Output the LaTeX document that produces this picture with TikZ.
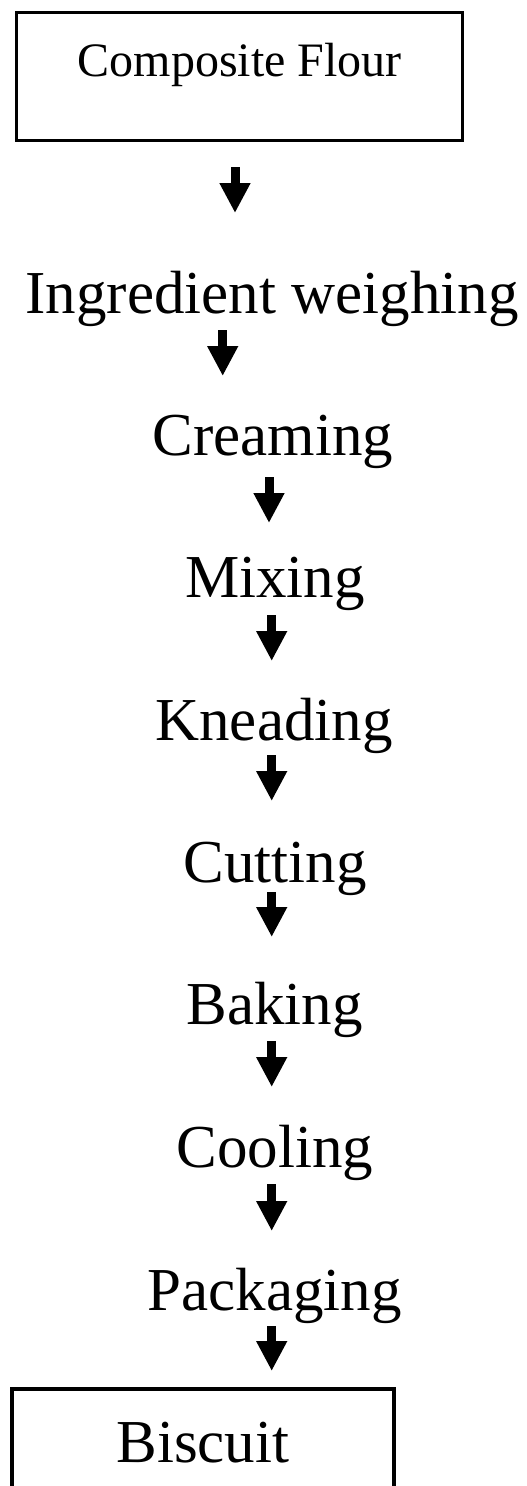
\documentclass[tikz,border=0pt]{standalone}
\usepackage{fontspec}
\setmainfont{Liberation Serif}
\usetikzlibrary{arrows.meta}
\tikzset{
  stage/.style={inner sep=0pt, anchor=base, font=\fontsize{61}{70}\selectfont},
  framed/.style={draw, line width=3.2pt, inner sep=0pt, anchor=base},
  flowarrow/.style={line width=9pt, -{Triangle[width=29pt,length=30pt]}}
}
\begin{document}
\begin{tikzpicture}[x=1pt,y=-1pt]
\useasboundingbox (0,0) rectangle (527,1486);
\clip (0,0) rectangle (527,1486);
\node[framed, font=\fontsize{48}{56}\selectfont, minimum width=446pt, text height=63.3pt, text depth=64.7pt] (flour) at (239.7,76) {Composite Flour};
\node[stage] (weigh) at (272,313) {Ingredient weighing};
\node[stage] (cream) at (273,455) {Creaming};
\node[stage] (mix) at (275,597) {Mixing};
\node[stage] (knead) at (274,740) {Kneading};
\node[stage] (cut) at (275,882) {Cutting};
\node[stage] (bake) at (274.5,1024) {Baking};
\node[stage] (cool) at (275,1167) {Cooling};
\node[stage] (pack) at (274.5,1310) {Packaging};
\node[framed, font=\fontsize{61}{70}\selectfont, minimum width=382pt, text height=73pt, text depth=60pt] (bisc) at (202.9,1462) {Biscuit};
\coordinate (a1s) at (235,167);   \coordinate (a1e) at (235,213);
\coordinate (a2s) at (222.7,330); \coordinate (a2e) at (222.7,376);
\coordinate (a3s) at (269,477);   \coordinate (a3e) at (269,523);
\coordinate (a4s) at (271.7,615); \coordinate (a4e) at (271.7,661);
\coordinate (a5s) at (271.7,755); \coordinate (a5e) at (271.7,801);
\coordinate (a6s) at (271.7,892); \coordinate (a6e) at (271.7,937);
\coordinate (a7s) at (271.7,1041); \coordinate (a7e) at (271.7,1087);
\coordinate (a8s) at (271.7,1184); \coordinate (a8e) at (271.7,1231);
\coordinate (a9s) at (271.7,1326); \coordinate (a9e) at (271.7,1371);
\foreach \i in {1,...,9} {\draw[flowarrow] (a\i s) -- (a\i e);}
\end{tikzpicture}
\end{document}
